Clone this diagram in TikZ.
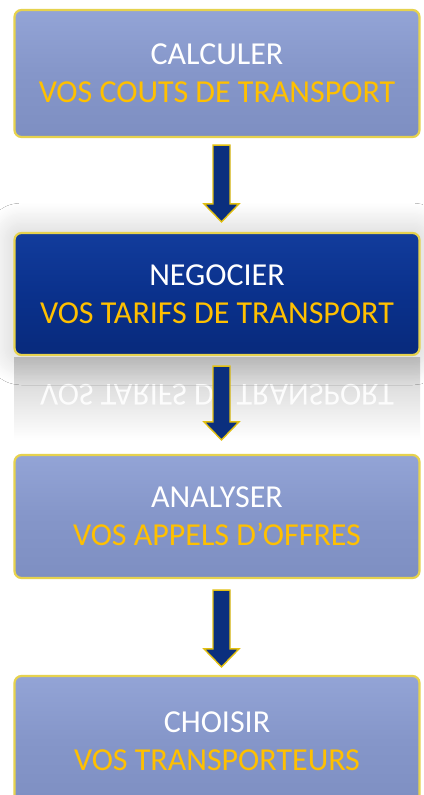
\documentclass[tikz,border=0pt]{standalone}
\usepackage{fontspec}
\setmainfont{Carlito}
\usetikzlibrary{calc,shadows.blur}
\definecolor{gold}{HTML}{FFC000}
\definecolor{rim}{HTML}{E6D24E}
\definecolor{lbtop}{HTML}{93A4D6}
\definecolor{lbmid}{HTML}{8596C9}
\definecolor{lbbot}{HTML}{7E8FC2}
\definecolor{dbtop}{HTML}{123C9C}
\definecolor{dbmid}{HTML}{0A318C}
\definecolor{dbbot}{HTML}{082A7C}
\definecolor{arrowblue}{HTML}{0B2F7E}
\definecolor{arrowrim}{HTML}{E2BF10}
\tikzset{
  boxbase/.style={rectangle, rounded corners=7pt, draw=rim, line width=2.2pt,
    minimum width=405pt, align=center, inner sep=0pt,
    font=\fontsize{32}{38}\selectfont},
  lightbox/.style={boxbase, top color=lbtop, bottom color=lbbot, middle color=lbmid},
  darkbox/.style={boxbase, top color=dbtop, bottom color=dbbot, middle color=dbmid},
  blockarrow/.style={fill=arrowblue, draw=arrowrim, line width=1.4pt, line join=miter}
}
\newcommand\flowarrow[2]{%
  \draw[blockarrow] let \p1=(#1), \p2=(#2) in
    (\x1-8.5pt,\y1) -- (\x1+8.5pt,\y1) -- (\x1+8.5pt,\y2+18pt) -- (\x1+17.5pt,\y2+18pt)
    -- (\x1,\y2) -- (\x1-17.5pt,\y2+18pt) -- (\x1-8.5pt,\y2+18pt) -- cycle;}
\begin{document}
\begin{tikzpicture}[x=1pt,y=-1pt]
\useasboundingbox (0,0) rectangle (423,795);
\fill[white] (0,0) rectangle (423,795);

% reflection of box 2
\shade[top color=black!20, bottom color=white] (14,357) rectangle (420,440);
\begin{scope}[shift={(217,395)}, yscale=-1]
  \node[transform shape, text=white, opacity=0.9, font=\fontsize{32}{38}\selectfont] (refl) at (0,0) {VOS TARIFS DE TRANSPORT};
\end{scope}

\node[lightbox, minimum height=127pt] (b1) at (217,73.5)
  {\textcolor{white}{CALCULER}\\\textcolor{gold}{VOS COUTS DE TRANSPORT}};
\node[darkbox, minimum height=122pt, blur shadow={shadow xshift=0pt, shadow yshift=0pt, shadow blur radius=30pt, shadow blur steps=25, shadow opacity=22}] (b2) at (217,294)
  {\textcolor{white}{NEGOCIER}\\\textcolor{gold}{VOS TARIFS DE TRANSPORT}};
\node[lightbox, minimum height=123pt] (b3) at (217,516.5)
  {\textcolor{white}{ANALYSER}\\\textcolor{gold}{VOS APPELS D’OFFRES}};
\node[lightbox, minimum height=130pt] (b4) at (217,741)
  {\textcolor{white}{CHOISIR}\\\textcolor{gold}{VOS TRANSPORTEURS}};

\coordinate (a1s) at ($(b1.south)+(4.5,7)$);
\coordinate (a1e) at ($(b2.north)+(4.5,-10)$);
\coordinate (a2s) at ($(b2.south)+(4.5,10)$);
\coordinate (a2e) at ($(b3.north)+(4.5,-14)$);
\coordinate (a3s) at ($(b3.south)+(4.5,11)$);
\coordinate (a3e) at ($(b4.north)+(4.5,-8)$);
\flowarrow{a1s}{a1e}
\flowarrow{a2s}{a2e}
\flowarrow{a3s}{a3e}
\end{tikzpicture}
\end{document}
